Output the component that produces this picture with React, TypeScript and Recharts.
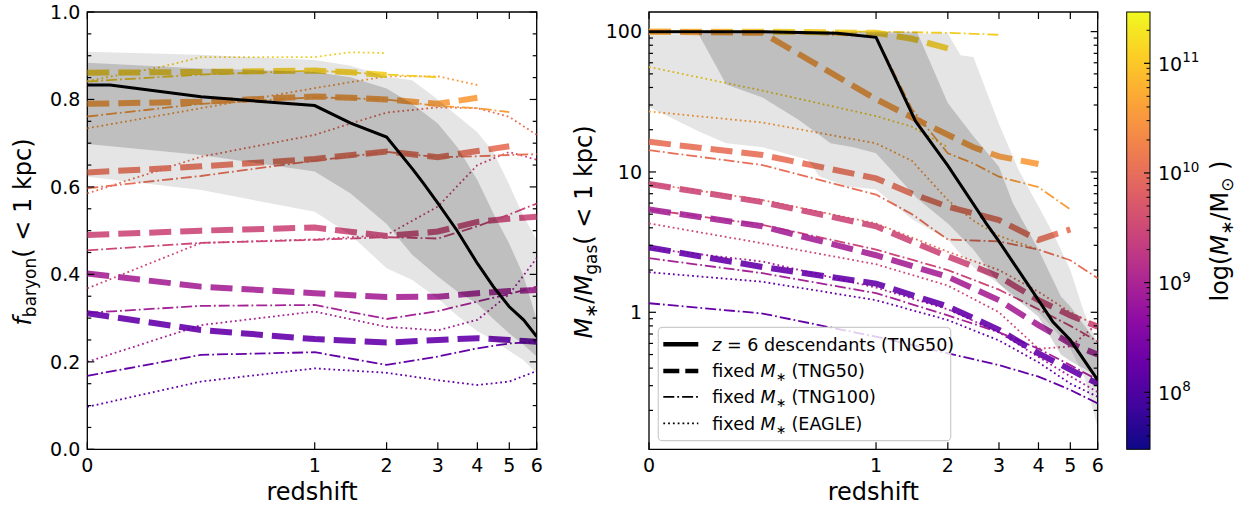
import React from 'react';
import { ComposedChart, Line, Area, XAxis, YAxis, ReferenceArea } from 'recharts';

const FONT = '"DejaVu Sans", sans-serif';

// ---------- axes / ticks ----------
const redshiftTicks = [0, 1, 2, 3, 4, 5, 6];
const redshiftTickFrac = [0, 0.506, 0.666, 0.78, 0.868, 0.939, 1];

const fMajorTicks = [0, 0.2, 0.4, 0.6, 0.8, 1.0];
const fMinorTicks = [0.05, 0.1, 0.15, 0.25, 0.3, 0.35, 0.45, 0.5, 0.55, 0.65, 0.7, 0.75, 0.85, 0.9, 0.95];
const rMajorTicks = [1, 10, 100];
const rMinorTicks = [0.2, 0.3, 0.4, 0.5, 0.6, 0.7, 0.8, 0.9, 2, 3, 4, 5, 6, 7, 8, 9, 20, 30, 40, 50, 60, 70, 80, 90];
const cbarMajorLog = [8, 9, 10, 11];
const cbarRange = [7.48, 11.468];

const plasmaStops = ['#0d0887', '#41049d', '#6a00a8', '#8f0da4', '#b12a90', '#cc4778', '#e16462', '#f2844b', '#fca636', '#fcce25', '#f0f921'];

// ---------- colours of mass bins ----------
const cYellow = '#f2cc22';
const cOrange = '#f99b3a';
const cCoral = '#e76f57';
const cPink = '#cc4778';
const cMagenta = '#a52296';
const cViolet = '#6500a8';

// ---------- left panel: f_baryon(<1kpc) ----------
const blackL = [[0, 0.833], [0.1, 0.833], [0.5, 0.806], [1, 0.786], [1.5, 0.746], [2, 0.714], [2.52, 0.639], [2.72, 0.608], [3, 0.563], [3.48, 0.501], [4, 0.425], [4.5, 0.372], [5, 0.326], [5.52, 0.296], [6, 0.258]];

const dashY_L = [[0, 0.861], [0.5, 0.863], [1, 0.866], [1.5, 0.862], [2, 0.856]];
const dashO_L = [[0, 0.79], [0.5, 0.795], [1, 0.807], [1.5, 0.804], [2, 0.8], [3, 0.79], [4, 0.804]];
const dashC_L = [[0, 0.633], [0.5, 0.647], [1, 0.664], [2, 0.681], [3, 0.668], [4, 0.682], [5, 0.693]];
const dashP_L = [[0, 0.49], [0.5, 0.5], [1, 0.507], [2, 0.488], [3, 0.498], [4, 0.52], [5, 0.527], [6, 0.532]];
const dashM_L = [[0, 0.402], [0.5, 0.372], [1, 0.357], [2, 0.348], [3, 0.349], [4, 0.357], [5, 0.362], [6, 0.364]];
const dashV_L = [[0, 0.311], [0.5, 0.273], [1, 0.252], [2, 0.244], [3, 0.25], [4, 0.254], [5, 0.25], [6, 0.246]];

const ddY_L = [[0, 0.841], [0.5, 0.857], [1, 0.866], [2, 0.857], [3, 0.851]];
const ddO_L = [[0, 0.761], [0.5, 0.79], [1, 0.805], [2, 0.8], [3, 0.785], [4, 0.78], [5, 0.771]];
const ddC_L = [[0, 0.597], [0.5, 0.625], [1, 0.66], [2, 0.68], [3, 0.668], [4, 0.67], [5, 0.673], [6, 0.675]];
const ddP_L = [[0, 0.455], [0.5, 0.472], [1, 0.479], [2, 0.485], [3, 0.482], [4, 0.51], [5, 0.537], [6, 0.562]];
const ddM_L = [[0, 0.312], [0.5, 0.328], [1, 0.33], [2, 0.298], [3, 0.316], [4, 0.338], [5, 0.355], [6, 0.372]];
const ddV_L = [[0, 0.168], [0.5, 0.216], [1, 0.222], [2, 0.193], [3, 0.212], [4, 0.231], [5, 0.242], [6, 0.246]];

const dotY_L = [[0, 0.842], [0.33, 0.875], [0.5, 0.897], [1, 0.897], [1.5, 0.908], [2, 0.906]];
const dotO_L = [[0, 0.734], [0.5, 0.78], [1, 0.826], [2, 0.853], [3, 0.853], [4, 0.833]];
const dotC_L = [[0, 0.585], [0.5, 0.669], [1, 0.719], [1.5, 0.745], [2, 0.77], [3, 0.782], [4, 0.78], [5, 0.76], [6, 0.719]];
const dotP_L = [[0, 0.368], [0.5, 0.472], [1, 0.48], [2, 0.49], [3, 0.555], [4, 0.65], [5, 0.68], [6, 0.662]];
const dotM_L = [[0, 0.2], [0.5, 0.284], [1, 0.315], [2, 0.28], [3, 0.272], [4, 0.296], [5, 0.355], [6, 0.437]];
const dotV_L = [[0, 0.097], [0.5, 0.155], [1, 0.185], [2, 0.175], [3, 0.158], [4, 0.147], [5, 0.155], [6, 0.179]];

const lightBandL = [[0, 0.623, 0.909], [0.5, 0.593, 0.902], [1, 0.543, 0.89], [1.5, 0.49, 0.877], [2, 0.414, 0.852], [2.5, 0.387, 0.844], [3, 0.345, 0.8], [3.5, 0.305, 0.762], [4, 0.27, 0.725], [4.5, 0.25, 0.68], [5, 0.225, 0.605], [5.5, 0.205, 0.535], [6, 0.174, 0.479]];
const darkBandL = [[0, 0.698, 0.884], [0.5, 0.673, 0.871], [1, 0.635, 0.863], [1.5, 0.585, 0.851], [2, 0.515, 0.825], [2.5, 0.445, 0.79], [3, 0.395, 0.745], [3.5, 0.36, 0.69], [4, 0.333, 0.616], [4.5, 0.298, 0.54], [5, 0.265, 0.47], [5.5, 0.24, 0.4], [6, 0.212, 0.296]];

// ---------- right panel: M*/Mgas(<1kpc) ----------
const blackR = [[0, 100], [0.5, 100], [0.83, 97.5], [1, 91], [1.55, 23], [2, 11.1], [2.75, 4.3], [3, 3.2], [4, 1.22], [4.45, 0.857], [5, 0.634], [6, 0.329]];

const dashY_R = [[0, 100], [0.5, 100], [1, 98], [1.5, 89], [2, 76]];
const dashO_R = [[0, 100], [0.5, 98], [1, 33], [1.5, 24.5], [2, 18.4], [2.5, 15], [3, 12.9], [4, 11.4]];
const dashC_R = [[0, 16.4], [0.5, 13.2], [1, 9.0], [1.5, 7.0], [2, 5.66], [3, 4.54], [4, 3.28], [5, 3.9]];
const dashP_R = [[0, 8.2], [0.5, 6.1], [1, 4.1], [1.5, 3.2], [2, 2.5], [3, 1.8], [4, 1.22], [5, 0.95], [6, 0.79]];
const dashM_R = [[0, 5.4], [0.5, 4.1], [1, 2.55], [2, 1.79], [3, 1.22], [4, 0.81], [5, 0.6], [6, 0.5]];
const dashV_R = [[0, 2.9], [0.5, 2.1], [1, 1.6], [2, 1.1], [3, 0.75], [4, 0.51], [5, 0.39], [6, 0.31]];

const ddY_R = [[0, 100], [1, 100], [2, 98], [3, 95]];
const ddO_R = [[0, 100], [0.5, 100], [1, 92], [1.5, 28], [2, 13.6], [2.5, 11.5], [3, 9.25], [4, 7.8], [5, 5.4]];
const ddC_R = [[0, 14.3], [0.5, 11.2], [1, 6.9], [1.5, 5.0], [2, 3.3], [3, 3.2], [4, 2.8], [5, 2.35], [6, 1.75]];
const ddP_R = [[0, 5.4], [0.5, 4.2], [1, 2.8], [2, 2.0], [3, 1.45], [4, 1.05], [5, 0.8], [6, 0.62]];
const ddM_R = [[0, 2.43], [0.5, 1.9], [1, 1.37], [2, 0.95], [3, 0.72], [4, 0.55], [5, 0.42], [6, 0.33]];
const ddV_R = [[0, 1.16], [0.5, 0.98], [1, 0.67], [2, 0.51], [3, 0.42], [4, 0.348], [5, 0.28], [6, 0.224]];

const dotY_R = [[0, 56], [0.5, 38], [1, 25], [1.5, 21], [2, 15]];
const dotO_R = [[0, 27], [0.5, 22.5], [1, 16], [1.5, 12], [2, 6.3], [2.5, 4.5], [3, 3.5], [4, 2.8]];
const dotC_R = [[0, 8.3], [0.5, 6.3], [1, 4.3], [2, 2.7], [3, 2.0], [4, 1.4], [5, 1.0], [6, 0.8]];
const dotP_R = [[0, 4.3], [0.5, 3.1], [1, 2.2], [2, 1.55], [3, 1.0], [4, 0.55], [5, 0.57], [6, 0.83]];
const dotM_R = [[0, 2.85], [0.5, 2.3], [1, 1.5], [2, 1.05], [3, 0.72], [4, 0.48], [5, 0.35], [6, 0.27]];
const dotV_R = [[0, 1.93], [0.5, 1.65], [1, 1.22], [2, 0.88], [3, 0.63], [4, 0.44], [5, 0.31], [6, 0.25]];

const lightBandR = [[0, 29, 95], [0.22, 19.4, 96], [0.34, 16, 97], [0.5, 15, 97], [0.7, 12.2, 97], [0.75, 9.3, 97], [0.87, 7.9, 97], [1, 7.5, 97], [1.5, 4.6, 97], [2, 3.3, 97], [2.25, 2.6, 68], [2.5, 2.1, 66], [3, 1.6, 22], [3.5, 1.25, 10.3], [4, 1.0, 5.7], [4.5, 0.75, 3.5], [5, 0.55, 2.0], [5.5, 0.35, 1.0], [6, 0.15, 0.6]];
const darkBandR = [[0.22, 95, 99], [0.34, 42, 100], [0.5, 34, 100], [0.66, 23.5, 100], [0.8, 16, 100], [0.9, 15, 100], [1, 13.6, 100], [1.57, 6.5, 100], [2, 4.3, 31], [2.5, 2.8, 18], [3, 1.6, 10.9], [3.35, 1.3, 6.0], [4, 0.93, 2.8], [4.7, 0.5, 1.3], [5, 0.45, 1.1], [6, 0.35, 0.6]];

// ---------- helpers ----------
function zToX(z: number): number {
  const i = Math.min(Math.floor(z), 5);
  const f = z - i;
  return redshiftTickFrac[i] + f * (redshiftTickFrac[i + 1] - redshiftTickFrac[i]);
}
const rows = (pts: number[][]) => pts.map(([z, v]) => ({ x: zToX(z), v }));
const bandRows = (pts: number[][]) => pts.map(([z, lo, hi]) => ({ x: zToX(z), r: [lo, hi] }));

type Style = 'solid' | 'dashed' | 'dashdot' | 'dotted';
type Series = { pts: number[][]; color: string; style: Style };

const styleProps = (s: Style) => {
  switch (s) {
    case 'solid':
      return { strokeWidth: 3, strokeDasharray: undefined as string | undefined, strokeOpacity: 1 };
    case 'dashed':
      return { strokeWidth: 6, strokeDasharray: '22 9', strokeOpacity: 0.9 };
    case 'dashdot':
      return { strokeWidth: 1.8, strokeDasharray: '11 3 1.8 3', strokeOpacity: 1 };
    default:
      return { strokeWidth: 1.8, strokeDasharray: '1.8 3', strokeOpacity: 1 };
  }
};

const seriesL: Series[] = [
  { pts: dotY_L, color: cYellow, style: 'dotted' },
  { pts: dotO_L, color: cOrange, style: 'dotted' },
  { pts: dotC_L, color: cCoral, style: 'dotted' },
  { pts: dotP_L, color: cPink, style: 'dotted' },
  { pts: dotM_L, color: cMagenta, style: 'dotted' },
  { pts: dotV_L, color: cViolet, style: 'dotted' },
  { pts: ddY_L, color: cYellow, style: 'dashdot' },
  { pts: ddO_L, color: cOrange, style: 'dashdot' },
  { pts: ddC_L, color: cCoral, style: 'dashdot' },
  { pts: ddP_L, color: cPink, style: 'dashdot' },
  { pts: ddM_L, color: cMagenta, style: 'dashdot' },
  { pts: ddV_L, color: cViolet, style: 'dashdot' },
  { pts: dashY_L, color: cYellow, style: 'dashed' },
  { pts: dashO_L, color: cOrange, style: 'dashed' },
  { pts: dashC_L, color: cCoral, style: 'dashed' },
  { pts: dashP_L, color: cPink, style: 'dashed' },
  { pts: dashM_L, color: cMagenta, style: 'dashed' },
  { pts: dashV_L, color: cViolet, style: 'dashed' },
  { pts: blackL, color: '#000000', style: 'solid' },
];

const seriesR: Series[] = [
  { pts: dotY_R, color: cYellow, style: 'dotted' },
  { pts: dotO_R, color: cOrange, style: 'dotted' },
  { pts: dotC_R, color: cCoral, style: 'dotted' },
  { pts: dotP_R, color: cPink, style: 'dotted' },
  { pts: dotM_R, color: cMagenta, style: 'dotted' },
  { pts: dotV_R, color: cViolet, style: 'dotted' },
  { pts: ddY_R, color: cYellow, style: 'dashdot' },
  { pts: ddO_R, color: cOrange, style: 'dashdot' },
  { pts: ddC_R, color: cCoral, style: 'dashdot' },
  { pts: ddP_R, color: cPink, style: 'dashdot' },
  { pts: ddM_R, color: cMagenta, style: 'dashdot' },
  { pts: ddV_R, color: cViolet, style: 'dashdot' },
  { pts: dashY_R, color: cYellow, style: 'dashed' },
  { pts: dashO_R, color: cOrange, style: 'dashed' },
  { pts: dashC_R, color: cCoral, style: 'dashed' },
  { pts: dashP_R, color: cPink, style: 'dashed' },
  { pts: dashM_R, color: cMagenta, style: 'dashed' },
  { pts: dashV_R, color: cViolet, style: 'dashed' },
  { pts: blackR, color: '#000000', style: 'solid' },
];

// ---------- tick renderers ----------
const PLOT_H = 437.3;

const makeXTick = (plotH: number) => (props: any) => {
  const { x, y, payload } = props;
  const i = redshiftTickFrac.findIndex((f) => Math.abs(f - payload.value) < 1e-6);
  return (
    <g>
      <line x1={x} x2={x} y1={y} y2={y - 7} stroke="#000" strokeWidth={1.2} />
      <line x1={x} x2={x} y1={y - plotH} y2={y - plotH + 7} stroke="#000" strokeWidth={1.2} />
      <text x={x} y={y + 22.5} textAnchor="middle" fontSize={19} fontFamily={FONT} fill="#000">
        {i >= 0 ? String(redshiftTicks[i]) : ''}
      </text>
    </g>
  );
};

const makeYTick = (plotW: number, majors: number[], fmt: (v: number) => string) => (props: any) => {
  const { x, y, payload } = props;
  const v = payload.value as number;
  const major = majors.some((m) => Math.abs(m - v) < 1e-9);
  const len = major ? 7 : 4;
  return (
    <g>
      <line x1={x} x2={x + len} y1={y} y2={y} stroke="#000" strokeWidth={1.2} />
      <line x1={x + plotW} x2={x + plotW - len} y1={y} y2={y} stroke="#000" strokeWidth={1.2} />
      {major ? (
        <text x={x - 7} y={y} dy="0.36em" textAnchor="end" fontSize={19} fontFamily={FONT} fill="#000">
          {fmt(v)}
        </text>
      ) : null}
    </g>
  );
};

const renderSeries = (list: Series[], prefix: string) =>
  list.map((s, i) => {
    const sp = styleProps(s.style);
    return (
      <Line
        key={prefix + i}
        data={rows(s.pts)}
        dataKey="v"
        type="linear"
        stroke={s.color}
        strokeWidth={sp.strokeWidth}
        strokeDasharray={sp.strokeDasharray}
        strokeOpacity={sp.strokeOpacity}
        dot={false}
        activeDot={false}
        isAnimationActive={false}
        legendType="none"
      />
    );
  });

// translucent percentile bands drawn over the lines
const renderBand = (pts: number[][], opacity: number, key: string) => (
  <Area
    key={key}
    data={bandRows(pts)}
    dataKey="r"
    type="linear"
    fill="#000000"
    fillOpacity={opacity}
    stroke="none"
    isAnimationActive={false}
    activeDot={false}
    dot={false}
    legendType="none"
    {...({ zIndex: 450 } as any)}
  />
);

const fTicksAll = [...fMajorTicks, ...fMinorTicks].sort((a, b) => a - b);
const rTicksAll = [...rMajorTicks, ...rMinorTicks].sort((a, b) => a - b);

function LeftPanel() {
  const plotW = 449.4;
  return (
    <ComposedChart width={560} height={507} margin={{ top: 12, right: 23.3, bottom: 0, left: 0 }}>
      <XAxis
        dataKey="x"
        type="number"
        domain={[0, 1]}
        allowDataOverflow
        ticks={redshiftTickFrac}
        interval={0}
        tickSize={0}
        tickMargin={0}
        tickLine={false}
        axisLine={false}
        height={57.7}
        tick={makeXTick(PLOT_H)}
      />
      <YAxis
        type="number"
        domain={[0, 1]}
        allowDataOverflow
        ticks={fTicksAll}
        interval={0}
        tickSize={0}
        tickMargin={0}
        tickLine={false}
        axisLine={false}
        width={87.3}
        tick={makeYTick(plotW, fMajorTicks, (v) => v.toFixed(1))}
      />
      {renderSeries(seriesL, 'L')}
      {renderBand(lightBandL, 0.1, 'bl1')}
      {renderBand(darkBandL, 0.165, 'bl2')}
      <ReferenceArea x1={0} x2={1} y1={0} y2={1} fill="none" stroke="#000" strokeWidth={1.3} ifOverflow="visible" />
    </ComposedChart>
  );
}

function RightPanel() {
  const plotW = 448.7;
  return (
    <ComposedChart width={560} height={507} margin={{ top: 12, right: 32.3, bottom: 0, left: 0 }}>
      <XAxis
        dataKey="x"
        type="number"
        domain={[0, 1]}
        allowDataOverflow
        ticks={redshiftTickFrac}
        interval={0}
        tickSize={0}
        tickMargin={0}
        tickLine={false}
        axisLine={false}
        height={57.7}
        tick={makeXTick(PLOT_H)}
      />
      <YAxis
        type="number"
        scale="log"
        domain={[0.1056, 138]}
        allowDataOverflow
        ticks={rTicksAll}
        interval={0}
        tickSize={0}
        tickMargin={0}
        tickLine={false}
        axisLine={false}
        width={79}
        tick={makeYTick(plotW, rMajorTicks, (v) => String(v))}
      />
      {renderSeries(seriesR, 'R')}
      {renderBand(lightBandR, 0.1, 'br1')}
      {renderBand(darkBandR, 0.165, 'br2')}
      <ReferenceArea x1={0} x2={1} y1={0.1056} y2={138} fill="none" stroke="#000" strokeWidth={1.3} ifOverflow="visible" />
    </ComposedChart>
  );
}

// ---------- overlay: labels, legend, colour bar ----------
function Overlay() {
  const cbX = 1126.7;
  const cbW = 23.3;
  const cbTop = 12;
  const cbBot = 449.3;
  const logToY = (L: number) => cbBot - ((L - cbarRange[0]) / (cbarRange[1] - cbarRange[0])) * (cbBot - cbTop);
  const minors: number[] = [];
  for (let k = 7; k <= 11; k++) {
    for (let m = 2; m <= 9; m++) {
      const L = k + Math.log10(m);
      if (L > cbarRange[0] && L < cbarRange[1]) minors.push(L);
    }
  }
  const legendRows = [
    { kind: 'solid', y: 344.3 },
    { kind: 'dashed', y: 371 },
    { kind: 'dashdot', y: 396.9 },
    { kind: 'dotted', y: 423.3 },
  ];
  const lx1 = 663.3;
  const lx2 = 698.3;
  const tx = 712.3;
  const fs = 17.5;
  return (
    <svg width={1248} height={507} style={{ position: 'absolute', left: 0, top: 0, pointerEvents: 'none' }}>
      <defs>
        <linearGradient id="plasmaGrad" x1="0" y1="1" x2="0" y2="0">
          {plasmaStops.map((c, i) => (
            <stop key={i} offset={i / (plasmaStops.length - 1)} stopColor={c} />
          ))}
        </linearGradient>
      </defs>

      {/* axis titles */}
      <text x={312} y={500} textAnchor="middle" fontSize={24} fontFamily={FONT} fill="#000">redshift</text>
      <text x={873.3} y={500} textAnchor="middle" fontSize={24} fontFamily={FONT} fill="#000">redshift</text>
      <text transform="translate(31,232) rotate(-90)" textAnchor="middle" fontSize={24} fontFamily={FONT} fill="#000">
        <tspan fontStyle="italic">f</tspan>
        <tspan fontSize={17} dy={5}>baryon</tspan>
        <tspan dy={-5}>( &lt; 1 kpc)</tspan>
      </text>
      <text transform="translate(592,232) rotate(-90)" textAnchor="middle" fontSize={24} fontFamily={FONT} fill="#000">
        <tspan fontStyle="italic">M</tspan>
        <tspan fontSize={17} dy={5}>∗</tspan>
        <tspan dy={-5}>/</tspan>
        <tspan fontStyle="italic">M</tspan>
        <tspan fontSize={17} dy={5}>gas</tspan>
        <tspan dy={-5}>( &lt; 1 kpc)</tspan>
      </text>

      {/* legend */}
      <rect x={658.3} y={327.3} width={292.4} height={113.4} rx={4} ry={4} fill="#ffffff" fillOpacity={0.8} stroke="#cccccc" strokeWidth={1.2} />
      {legendRows.map((r, i) => {
        const p =
          r.kind === 'solid'
            ? { w: 4.5, d: undefined as string | undefined }
            : r.kind === 'dashed'
            ? { w: 4.5, d: '16 6' }
            : r.kind === 'dashdot'
            ? { w: 1.8, d: '11 3 1.8 3' }
            : { w: 1.8, d: '1.8 3' };
        return <line key={i} x1={lx1} x2={lx2} y1={r.y} y2={r.y} stroke="#000" strokeWidth={p.w} strokeDasharray={p.d} />;
      })}
      <text x={tx} y={legendRows[0].y} dy="0.36em" fontSize={fs} fontFamily={FONT} fill="#000">
        <tspan fontStyle="italic">z</tspan>
        <tspan> = 6 descendants (TNG50)</tspan>
      </text>
      {['TNG50', 'TNG100', 'EAGLE'].map((lab, i) => (
        <text key={lab} x={tx} y={legendRows[i + 1].y} dy="0.36em" fontSize={fs} fontFamily={FONT} fill="#000">
          <tspan>fixed </tspan>
          <tspan fontStyle="italic">M</tspan>
          <tspan fontSize={fs * 0.7} dy={4}>∗</tspan>
          <tspan dy={-4}> ({lab})</tspan>
        </text>
      ))}

      {/* colour bar */}
      <rect x={cbX} y={cbTop} width={cbW} height={cbBot - cbTop} fill="url(#plasmaGrad)" stroke="#000" strokeWidth={1} />
      {cbarMajorLog.map((L) => (
        <g key={'M' + L}>
          <line x1={cbX + cbW - 6} x2={cbX + cbW} y1={logToY(L)} y2={logToY(L)} stroke="#000" strokeWidth={1.2} />
          <text x={cbX + cbW + 8} y={logToY(L) + 7.5} fontSize={19} fontFamily={FONT} fill="#000">
            10
            <tspan fontSize={13.5} dy={-8.5}>{String(L)}</tspan>
          </text>
        </g>
      ))}
      {minors.map((L, i) => (
        <line key={'m' + i} x1={cbX + cbW - 3.5} x2={cbX + cbW} y1={logToY(L)} y2={logToY(L)} stroke="#000" strokeWidth={1} />
      ))}
      <text transform="translate(1228,231) rotate(-90)" textAnchor="middle" fontSize={24} fontFamily={FONT} fill="#000">
        <tspan>log(</tspan>
        <tspan fontStyle="italic">M</tspan>
        <tspan fontSize={17} dy={5}>∗</tspan>
        <tspan dy={-5}>/M</tspan>
        <tspan fontSize={17} dy={5}>⊙</tspan>
        <tspan dy={-5}> )</tspan>
      </text>
    </svg>
  );
}

export default function App() {
  return (
    <div style={{ position: 'absolute', left: 0, top: 0, width: 1248, height: 507, background: '#ffffff', overflow: 'hidden' }}>
      <div style={{ position: 'absolute', left: 0, top: 0 }}>
        <LeftPanel />
      </div>
      <div style={{ position: 'absolute', left: 570, top: 0 }}>
        <RightPanel />
      </div>
      <Overlay />
    </div>
  );
}
